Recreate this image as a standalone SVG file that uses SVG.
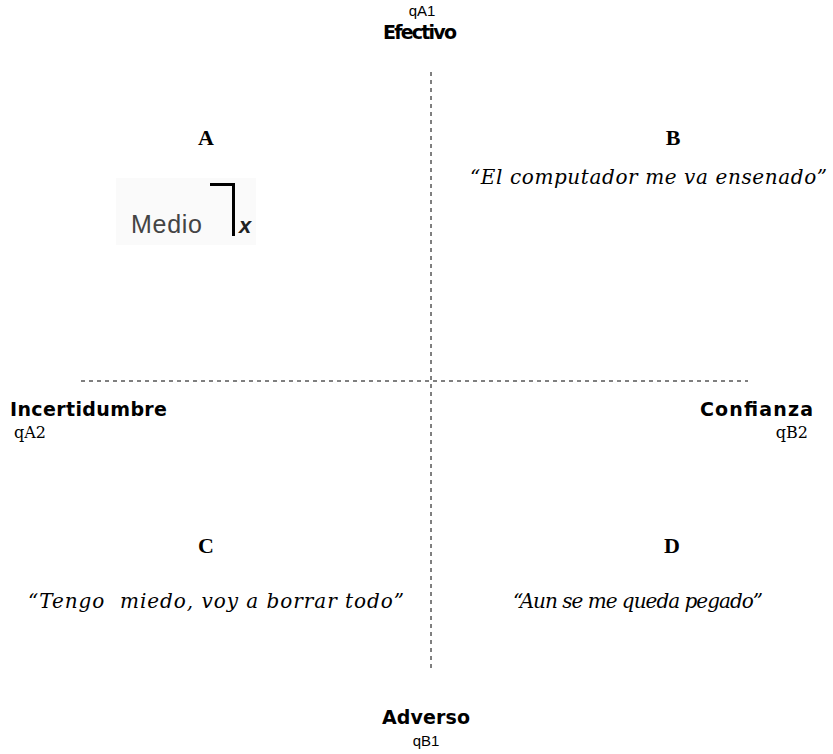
<svg xmlns="http://www.w3.org/2000/svg" width="833" height="754" viewBox="0 0 833 754">
  <style>
    .axis { stroke: #000; stroke-width: 1; stroke-dasharray: 4 4; fill: none; }
    .pole { font-family: "DejaVu Sans", "Liberation Sans", sans-serif; font-weight: bold; font-size: 19px; fill: #000; }
    .code { font-family: "Liberation Sans", Arial, sans-serif; font-size: 15px; fill: #000; }
    .code2 { font-family: "DejaVu Serif", "Liberation Serif", serif; font-size: 16px; fill: #000; }
    .quad { font-family: "Liberation Serif", "Times New Roman", serif; font-weight: bold; font-size: 22px; fill: #000; text-anchor: middle; }
    .quote { font-family: "DejaVu Serif", "Liberation Serif", serif; font-style: italic; font-size: 20px; fill: #000; }
  </style>
  <rect width="833" height="754" fill="#fff"/>

  <!-- dashed axes -->
  <g id="connectors">
    <line class="axis" x1="431" y1="72" x2="431" y2="668"/>
    <line class="axis" x1="81" y1="381" x2="748" y2="381"/>
  </g>

  <!-- pole labels -->
  <g id="pole-top">
    <text class="code" x="422" y="16" text-anchor="middle">qA1</text>
    <text class="pole" x="383" y="39" font-size="15" textLength="74">Efectivo</text>
  </g>
  <g id="pole-left">
    <text class="pole" x="10" y="416" textLength="157">Incertidumbre</text>
    <text class="code2" x="14" y="438">qA2</text>
  </g>
  <g id="pole-right">
    <text class="pole" x="700" y="416" textLength="113">Confianza</text>
    <text class="code2" x="808" y="438" text-anchor="end">qB2</text>
  </g>
  <g id="pole-bottom">
    <text class="pole" x="382" y="724" textLength="88">Adverso</text>
    <text class="code" x="426" y="746" text-anchor="middle" font-size="16">qB1</text>
  </g>

  <!-- quadrant A -->
  <g id="quadrant-a">
    <text class="quad" x="206" y="145">A</text>
    <rect x="116" y="178" width="140" height="67" fill="#fafafa"/>
    <text x="131" y="233" font-family="Liberation Sans, Arial, sans-serif" font-size="25" fill="#444" textLength="71">Medio</text>
    <path d="M210 184.5 H233.5 V236" fill="none" stroke="#000" stroke-width="3"/>
    <text x="239" y="233" font-family="Liberation Sans, Arial, sans-serif" font-size="22" font-weight="bold" font-style="italic" fill="#222">x</text>
  </g>

  <!-- quadrant B -->
  <g id="quadrant-b">
    <text class="quad" x="673" y="145">B</text>
    <text class="quote" x="470" y="184" textLength="357">“El computador me va ensenado”</text>
  </g>

  <!-- quadrant C -->
  <g id="quadrant-c">
    <text class="quad" x="206" y="553">C</text>
    <text class="quote" x="28" y="608" textLength="376" xml:space="preserve">“Tengo  miedo, voy a borrar todo”</text>
  </g>

  <!-- quadrant D -->
  <g id="quadrant-d">
    <text class="quad" x="672" y="553">D</text>
    <text class="quote" x="513" y="608" textLength="250">“Aun se me queda pegado”</text>
  </g>
</svg>
